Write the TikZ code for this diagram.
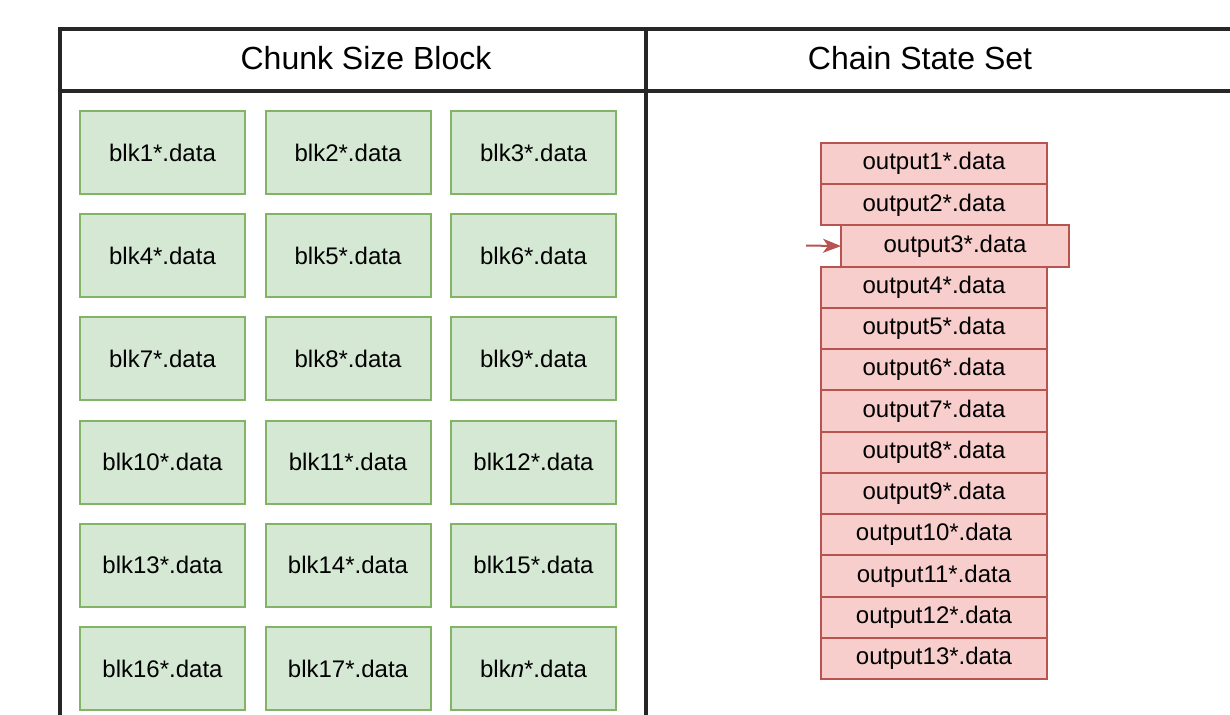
\documentclass[tikz,border=0pt]{standalone}
\usepackage{fontspec}
\setmainfont{Liberation Sans}
\usetikzlibrary{arrows.meta}
\definecolor{gfill}{HTML}{D5E8D4}
\definecolor{gline}{HTML}{82B366}
\definecolor{rfill}{HTML}{F8CECC}
\definecolor{rline}{HTML}{B85450}
\tikzset{
  blkbox/.style={draw=gline, fill=gfill, line width=2pt, minimum width=165pt, minimum height=83pt, inner sep=0pt, font=\fontsize{24}{28}\selectfont},
  outbox/.style={draw=rline, fill=rfill, line width=2pt, minimum width=226pt, minimum height=41.2pt, inner sep=0pt, font=\fontsize{24}{28}\selectfont},
  frameline/.style={line width=3.5pt, black!85},
  headtext/.style={font=\fontsize{32}{36}\selectfont, inner sep=0pt},
  pointer/.style={draw=rline, line width=2pt, -{Stealth[length=18pt,width=14pt,inset=5pt]}, shorten >=-1pt}
}
\begin{document}
\begin{tikzpicture}[x=1pt,y=-1pt]
\useasboundingbox (0,0) rectangle (1230,714);
\begin{scope}
\clip (0,0) rectangle (1230,714);
% table frame
\draw[frameline] (60,29) -- (1240,29);
\draw[frameline] (60,91) -- (1240,91);
\draw[frameline] (60,27.25) -- (60,730);
\draw[frameline] (646,27.25) -- (646,730);
\end{scope}
\node[headtext] (h1) at (366,58) {Chunk Size Block};
\node[headtext] (h2) at (920,58) {Chain State Set};
% chunk blocks, three per row
\foreach \i/\lab in {1/blk1*.data, 2/blk2*.data, 3/blk3*.data,
                     4/blk4*.data, 5/blk5*.data, 6/blk6*.data,
                     7/blk7*.data, 8/blk8*.data, 9/blk9*.data,
                     10/blk10*.data, 11/blk11*.data, 12/blk12*.data,
                     13/blk13*.data, 14/blk14*.data, 15/blk15*.data,
                     16/blk16*.data, 17/blk17*.data, 18/blk\textit{n}*.data} {
  \pgfmathtruncatemacro{\col}{mod(\i-1,3)}
  \pgfmathtruncatemacro{\row}{div(\i-1,3)}
  \node[blkbox] (blk\i) at ({162.5+\col*185.5}, {152.5+\row*103.2}) {\lab};
}
% chain state entries
\foreach \i in {1,2,4,5,6,7,8,9,10,11,12,13} {
  \node[outbox] (out\i) at (934, {163.6+(\i-1)*41.23}) {output\i*.data};
}
\node[outbox, minimum width=228pt] (out3) at (955, {163.6+2*41.23}) {output3*.data};
\coordinate (ptr) at (806,245.5);
\draw[pointer] (ptr) -- (out3.west);
\end{tikzpicture}
\end{document}
